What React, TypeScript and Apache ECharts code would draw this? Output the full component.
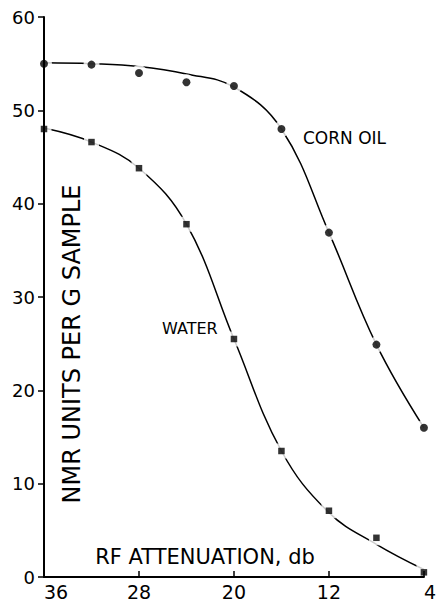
import React, { useEffect, useRef } from "react";
import * as echarts from "echarts";

// RF attenuation (db), left to right
const attenuation = ["36", "32", "28", "24", "20", "16", "12", "8", "4"];
// measured points (NMR units per g sample)
const cornOilPoints = [55.0, 54.9, 54.0, 53.0, 52.6, 48.0, 36.9, 24.9, 16.0];
const waterPoints = [48.0, 46.6, 43.8, 37.8, 25.5, 13.5, 7.1, 4.2, 0.5];
// hand-drawn fitted curves read at the same attenuations
const cornOilCurve = [55.1, 55.0, 54.7, 53.9, 52.5, 48.0, 36.9, 24.9, 16.0];
const waterCurve = [48.1, 46.6, 43.8, 37.8, 25.5, 13.5, 6.9, 3.5, 0.8];

const yTitle = "NMR UNITS PER G SAMPLE";
const xTitle = "RF ATTENUATION, db";
const cornLabel = "CORN OIL";
const waterLabel = "WATER";

const FONT = "'DejaVu Sans', sans-serif";

export default function App() {
  const ref = useRef<HTMLDivElement>(null);
  useEffect(() => {
    document.body.style.margin = "0";
    const chart = echarts.init(ref.current!, null, { renderer: "svg" });
    chart.setOption({
      animation: false,
      backgroundColor: "#ffffff",
      grid: { left: 44, right: 12, top: 17, bottom: 26 },
      xAxis: {
        type: "category",
        data: attenuation,
        boundaryGap: false,
        z: 10,
        axisLine: { lineStyle: { color: "#000", width: 2 } },
        axisTick: { show: true, inside: true, length: 6, interval: 1, lineStyle: { color: "#000", width: 1.5 } },
        axisLabel: {
          interval: 1,
          color: "#000",
          fontFamily: FONT,
          fontSize: 19,
          lineHeight: 19,
          margin: 5,
          alignMinLabel: "left",
          alignMaxLabel: "left",
        },
        splitLine: { show: false },
      },
      yAxis: {
        type: "value",
        min: 0,
        max: 60,
        interval: 10,
        z: 10,
        axisLine: { show: true, lineStyle: { color: "#000", width: 2 } },
        axisTick: { show: true, length: 6, lineStyle: { color: "#000", width: 1.5 } },
        axisLabel: { color: "#000", fontFamily: FONT, fontSize: 18, margin: 9 },
        splitLine: { show: false },
      },
      graphic: [
        {
          type: "text",
          x: 72,
          y: 344,
          rotation: Math.PI / 2,
          style: { text: yTitle, font: `24px ${FONT}`, fill: "#000", align: "center", verticalAlign: "middle" },
        },
        {
          type: "text",
          x: 205,
          y: 557,
          style: { text: xTitle, font: `21px ${FONT}`, fill: "#000", align: "center", verticalAlign: "middle" },
        },
        {
          type: "text",
          x: 303,
          y: 138,
          style: { text: cornLabel, font: `17px ${FONT}`, fill: "#000", align: "left", verticalAlign: "middle" },
        },
        {
          type: "text",
          x: 162,
          y: 328,
          style: { text: waterLabel, font: `16px ${FONT}`, fill: "#000", align: "left", verticalAlign: "middle" },
        },
      ],
      series: [
        {
          type: "line",
          data: cornOilCurve,
          smooth: 0.4,
          symbol: "none",
          lineStyle: { color: "#000", width: 1.5 },
          z: 2,
        },
        {
          type: "line",
          data: waterCurve,
          smooth: 0.4,
          symbol: "none",
          lineStyle: { color: "#000", width: 1.5 },
          z: 2,
        },
        {
          type: "scatter",
          data: cornOilPoints,
          symbol: "circle",
          symbolSize: 16,
          itemStyle: { color: "#fff" },
          z: 3,
        },
        {
          type: "scatter",
          data: waterPoints,
          symbol: "rect",
          symbolSize: 15,
          itemStyle: { color: "#fff" },
          z: 3,
        },
        {
          type: "scatter",
          data: cornOilPoints,
          symbol: "circle",
          symbolSize: 8,
          itemStyle: { color: "#000" },
          z: 4,
        },
        {
          type: "scatter",
          data: waterPoints,
          symbol: "rect",
          symbolSize: 6.5,
          itemStyle: { color: "#000" },
          z: 4,
        },
      ],
    });
    return () => chart.dispose();
  }, []);
  return <div ref={ref} style={{ position: "fixed", left: 0, top: 0, width: 439, height: 603 }} />;
}
